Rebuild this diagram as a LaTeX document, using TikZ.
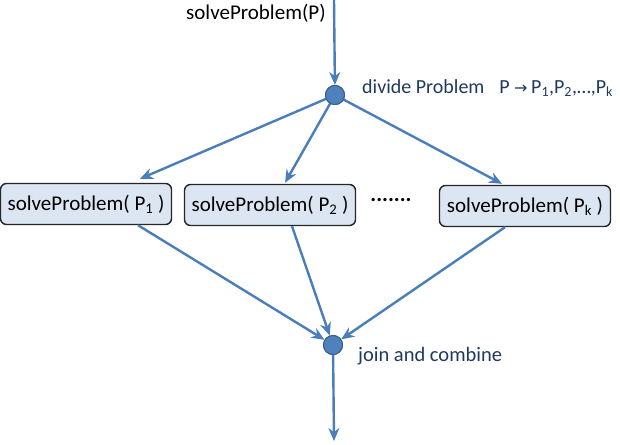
\documentclass[tikz,border=0pt]{standalone}
\usepackage{fontspec}
\setmainfont{Carlito}
\newfontfamily\dvfont{DejaVu Sans}
\usetikzlibrary{arrows.meta}
\definecolor{lineblue}{HTML}{4A7EBB}
\definecolor{dotfill}{HTML}{4F81BD}
\definecolor{dotedge}{HTML}{385D8A}
\definecolor{boxfill}{HTML}{DCE6F2}
\definecolor{navy}{HTML}{1F3A5F}
\tikzset{
  conn/.style={draw=lineblue, line width=2.4pt, -{Stealth[length=13pt,width=11pt]}},
  dotnode/.style={circle, fill=dotfill, draw=dotedge, line width=1pt, minimum size=19pt, inner sep=0pt},
  taskbox/.style={rectangle, rounded corners=6pt, draw=black!85, line width=1.4pt, fill=boxfill,
    minimum width=171pt, minimum height=41pt, inner sep=0pt, font=\fontsize{21}{25}\selectfont},
  note/.style={text=navy, font=\fontsize{20.5}{24}\selectfont, inner sep=0pt, anchor=west},
}
\begin{document}
\begin{tikzpicture}[x=1pt,y=-1pt]
\useasboundingbox (0,0) rectangle (620,444);
\coordinate (top) at (334,0);
\coordinate (bot) at (334,441);
\node[dotnode] (d1) at (335,95) {};
\node[dotnode] (d2) at (333,345) {};
\node[taskbox] (b1) at (86,204) {solveProblem( P\textsubscript{1} )};
\node[taskbox] (b2) at (270,205) {solveProblem( P\textsubscript{2} )};
\node[taskbox] (b3) at (525,206) {solveProblem( P\textsubscript{k} )};
\node[inner sep=0pt, font=\fontsize{22}{24}\bfseries] (dots) at (391,200) {.......};
\node[inner sep=0pt, anchor=west, font=\fontsize{21}{24}\selectfont] (t0) at (186,13) {solveProblem(P)};
\node[note, font=\fontsize{20}{24}\selectfont] (t1) at (362,88) {divide Problem\hspace{0.75em}P\hspace{0.22em}{\dvfont\fontsize{16}{20}\selectfont →}\hspace{0.18em}P\textsubscript{1},P\textsubscript{2},…,P\textsubscript{k}};
\node[note] (t2) at (358,356) {join and combine};
\draw[conn] (top) -- (d1);
\draw[conn] (d1.center) -- ([xshift=54pt,yshift=4pt]b1.north);
\draw[conn] (d1.center) -- ([xshift=15pt,yshift=1pt]b2.north);
\draw[conn] (d1.center) -- ([xshift=-23pt,yshift=1pt]b3.north);
\draw[conn] ([xshift=52pt]b1.south) -- (d2);
\draw[conn] ([xshift=22pt]b2.south) -- (d2);
\draw[conn] ([xshift=-20pt]b3.south) -- (d2);
\draw[conn] (d2.center) -- (bot);
\node[dotnode] at (d1) {};
\node[dotnode] at (d2) {};
\end{tikzpicture}
\end{document}
